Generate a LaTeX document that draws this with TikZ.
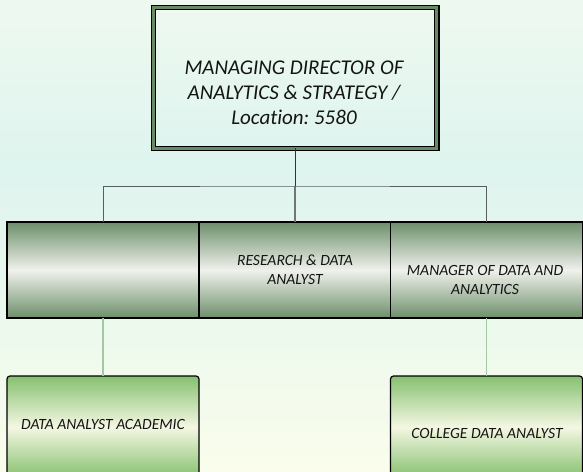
\documentclass[tikz,border=0pt]{standalone}
\usepackage{fontspec}
\setmainfont{Carlito}[Ligatures={NoCommon}]
\frenchspacing
\definecolor{bgtop}{RGB}{238,249,240}
\definecolor{bgmid}{RGB}{222,244,238}
\definecolor{bgbot}{RGB}{250,253,236}
\definecolor{framegreen}{RGB}{104,138,100}
\definecolor{midgreen}{RGB}{108,143,106}
\definecolor{midlight}{RGB}{240,241,236}
\definecolor{lowgreen}{RGB}{134,192,112}
\definecolor{lowlight}{RGB}{244,247,226}
\definecolor{darkline}{RGB}{50,50,50}
\definecolor{grayline}{RGB}{110,118,118}
\definecolor{greenline}{RGB}{163,201,163}
\definecolor{txt}{RGB}{20,20,20}
\tikzset{
  mdbox/.style={draw=black, double=framegreen, double distance=3pt, line width=1.2pt,
    top color=bgtop, bottom color=bgmid, minimum width=283.6pt, minimum height=140.6pt,
    inner sep=0pt, outer sep=0pt},
  mdtext/.style={font=\fontsize{21}{25}\selectfont\itshape, text=txt, align=center, inner sep=0pt},
  midbox/.style={draw=black, line width=1.2pt, top color=midgreen, bottom color=midgreen,
    middle color=midlight, minimum width=192pt, minimum height=96pt, inner sep=0pt, outer sep=0pt},
  lowbox/.style={draw=black, line width=1.2pt, rounded corners=3pt, top color=lowgreen,
    bottom color=lowgreen, middle color=lowlight, minimum width=192pt, minimum height=102pt,
    inner sep=0pt, outer sep=0pt},
  smalltext/.style={font=\fontsize{15.6}{19}\selectfont\itshape, text=txt, align=center, inner sep=0pt},
  topconn/.style={draw=darkline, line width=1pt},
  grayconn/.style={draw=grayline, line width=1.1pt},
  lowconn/.style={draw=greenline, line width=1.3pt}
}
\begin{document}
\begin{tikzpicture}[x=1pt,y=-1pt]
\useasboundingbox (0,0) rectangle (583,471);
\clip (0,0) rectangle (583,471);
\fill[top color=bgtop, bottom color=bgmid] (0,0) rectangle (583,170);
\fill[top color=bgmid, bottom color=bgbot] (0,169.5) rectangle (583,471);

\node[mdbox] (md) at (295,78) {};
\node[mdtext] (mdt) at (294,93) {MANAGING DIRECTOR OF\\ANALYTICS \& STRATEGY /\\Location: 5580};

\node[midbox] (b1) at (103,270) {};
\node[midbox] (b2) at (295,270) {};
\node[midbox] (b3) at (486.5,270) {};
\node[smalltext] (b2t) at (295,270) {RESEARCH \& DATA\\ANALYST};
\node[smalltext] (b3t) at (485,279.5) {MANAGER OF DATA AND\\ANALYTICS};

\node[lowbox] (c1) at (103,427) {};
\node[lowbox] (c2) at (486.5,427) {};
\node[smalltext] (c1t) at (103,424) {DATA ANALYST ACADEMIC};
\node[smalltext] (c2t) at (487,433) {COLLEGE DATA ANALYST};

\coordinate (bar) at (295,186);
\draw[topconn] (md.south) -- (bar);
\draw[grayconn] (bar) -- (b2.north);
\draw[topconn, draw=grayline!80!black] (b1.north) |- (bar) -| (b3.north);
\draw[lowconn] (b1.south) -- (c1.north);
\draw[lowconn] (b3.south) -- (c2.north);
\end{tikzpicture}
\end{document}
